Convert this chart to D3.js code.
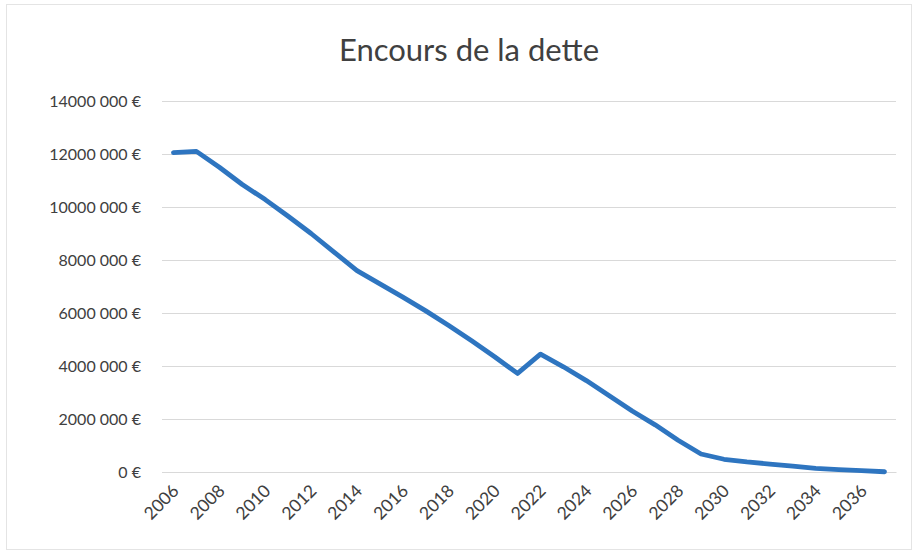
<!DOCTYPE html>
<html><head><meta charset="utf-8">
<script src="https://cdn.jsdelivr.net/npm/d3@7"></script>
<style>body{margin:0;background:#fff}svg{display:block}</style>
</head><body><svg id="c" width="914" height="552"></svg>
<script>
const years = d3.range(2006, 2038);
const debt = [12050000, 12100000, 11500000, 10850000, 10280000, 9650000, 9000000, 8300000,
  7600000, 7100000, 6600000, 6080000, 5530000, 4950000, 4350000, 3720000,
  4450000, 3970000, 3450000, 2880000, 2300000, 1780000, 1200000, 680000,
  480000, 380000, 300000, 220000, 140000, 90000, 50000, 10000];
const yTicks = [0, 2000000, 4000000, 6000000, 8000000, 10000000, 12000000, 14000000];
const yTickLabels = ["0 €", "2000 000 €", "4000 000 €", "6000 000 €", "8000 000 €", "10000 000 €", "12000 000 €", "14000 000 €"];
const xTickYears = years.filter(y => y % 2 === 0);
const title = "Encours de la dette";

(function () {
const svg = d3.select("#c");
const font = "Lato, 'Open Sans', sans-serif";
svg.append("rect").attr("x", 6.5).attr("y", 4.5).attr("width", 905).attr("height", 545)
  .attr("fill", "#fff").attr("stroke", "#e4e4e4");

const pL = 162, pR = 896, pT = 101, pB = 472;
const x = d3.scalePoint().domain(years).range([pL, pR]).padding(0.5);
const y = d3.scaleLinear().domain([0, 14000000]).range([pB, pT]);

const gy = svg.append("g").attr("transform", `translate(${pL},0)`)
  .call(d3.axisLeft(y).tickValues(yTicks).tickSize(-(pR - pL))
    .tickFormat((d, i) => yTickLabels[i]).tickPadding(21));
gy.select(".domain").remove();
gy.selectAll(".tick line").attr("stroke", "#d9d9d9").attr("stroke-width", 1);
gy.selectAll(".tick text").attr("fill", "#404040").style("font-family", font).style("font-size", "16px");

const gx = svg.append("g").attr("transform", `translate(0,${pB})`)
  .call(d3.axisBottom(x).tickValues(xTickYears).tickSize(0).tickPadding(0));
gx.select(".domain").attr("stroke", "#d9d9d9");
gx.selectAll(".tick text").attr("fill", "#404040").style("font-family", font).style("font-size", "17.5px")
  .attr("text-anchor", "end").attr("dy", null).attr("y", 0)
  .attr("transform", "translate(6,20) rotate(-45)");

const line = d3.line().x((d, i) => x(years[i])).y(d => y(d));
svg.append("path").datum(debt).attr("d", line).attr("fill", "none")
  .attr("stroke", "#2e75c0").attr("stroke-width", 4.8)
  .attr("stroke-linejoin", "round").attr("stroke-linecap", "round");

svg.append("text").attr("x", 469).attr("y", 61).attr("text-anchor", "middle")
  .attr("fill", "#404040").style("font-family", font).style("font-size", "31px").text(title);
})();
</script></body></html>
